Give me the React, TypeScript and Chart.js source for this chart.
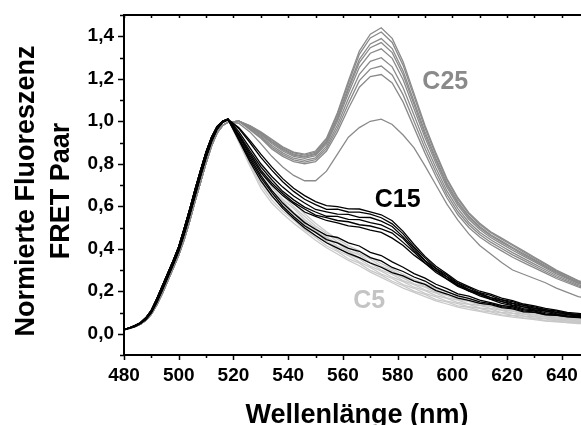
import { useEffect, useRef } from "react";
import { Chart, registerables } from "chart.js";

Chart.register(...registerables);

// Wavelength grid (nm)
const WAVELENGTH = [
  480, 482, 484, 486, 488, 490, 492, 494, 496, 498, 500, 502, 504, 506, 508, 510, 512, 514, 516, 518,
  522, 526, 530, 534, 538, 542, 546, 550, 554, 558, 562, 566, 570, 574, 578, 582, 586, 590, 594, 598,
  602, 606, 610, 614, 618, 622, 626, 630, 634, 638, 642, 646, 650,
];

// Donor rise (480–518 nm)
const RISE_A = [
  0.02, 0.028, 0.038, 0.052, 0.075, 0.11, 0.165, 0.225, 0.285, 0.345, 0.41, 0.495, 0.585, 0.68, 0.77,
  0.855, 0.925, 0.975, 1.0, 1.01,
];
const RISE_B = [
  0.019, 0.026, 0.035, 0.048, 0.068, 0.1, 0.15, 0.207, 0.267, 0.327, 0.39, 0.47, 0.558, 0.652, 0.744,
  0.832, 0.906, 0.962, 0.995, 1.008,
];
const RISE_C25 = [
  0.018, 0.025, 0.033, 0.045, 0.063, 0.092, 0.137, 0.19, 0.25, 0.31, 0.37, 0.445, 0.53, 0.625, 0.715,
  0.805, 0.885, 0.945, 0.98, 0.995,
];

// Tails 522–650 nm
const C25_SERIES = [
  [1.0, 0.98, 0.95, 0.915, 0.88, 0.855, 0.845, 0.86, 0.92, 1.04, 1.19, 1.33, 1.41, 1.44, 1.39, 1.28, 1.13, 0.98, 0.85, 0.73, 0.64, 0.57, 0.52, 0.48, 0.45, 0.42, 0.39, 0.36, 0.33, 0.3, 0.275, 0.25, 0.235],
  [1.0, 0.978, 0.947, 0.911, 0.876, 0.851, 0.841, 0.855, 0.915, 1.032, 1.178, 1.315, 1.392, 1.42, 1.371, 1.263, 1.116, 0.968, 0.84, 0.722, 0.633, 0.564, 0.514, 0.475, 0.445, 0.415, 0.385, 0.355, 0.326, 0.296, 0.272, 0.247, 0.232],
  [1.0, 0.975, 0.943, 0.905, 0.87, 0.845, 0.835, 0.849, 0.906, 1.019, 1.16, 1.291, 1.364, 1.389, 1.342, 1.236, 1.093, 0.95, 0.825, 0.709, 0.622, 0.554, 0.505, 0.466, 0.436, 0.406, 0.377, 0.349, 0.32, 0.291, 0.267, 0.243, 0.228],
  [1.0, 0.974, 0.94, 0.901, 0.866, 0.841, 0.831, 0.844, 0.901, 1.011, 1.148, 1.276, 1.346, 1.37, 1.323, 1.219, 1.079, 0.938, 0.815, 0.701, 0.614, 0.548, 0.499, 0.461, 0.431, 0.401, 0.372, 0.344, 0.316, 0.287, 0.264, 0.24, 0.225],
  [1.0, 0.971, 0.937, 0.895, 0.86, 0.835, 0.825, 0.838, 0.893, 1.0, 1.132, 1.254, 1.32, 1.341, 1.296, 1.195, 1.058, 0.922, 0.801, 0.69, 0.604, 0.539, 0.491, 0.453, 0.423, 0.393, 0.365, 0.338, 0.31, 0.282, 0.259, 0.237, 0.222],
  [1.0, 0.967, 0.931, 0.886, 0.851, 0.826, 0.816, 0.828, 0.882, 0.982, 1.107, 1.221, 1.282, 1.299, 1.256, 1.158, 1.028, 0.897, 0.78, 0.672, 0.589, 0.525, 0.478, 0.442, 0.412, 0.382, 0.355, 0.328, 0.301, 0.274, 0.253, 0.231, 0.216],
  [1.0, 0.964, 0.925, 0.878, 0.843, 0.818, 0.808, 0.819, 0.871, 0.966, 1.083, 1.191, 1.246, 1.26, 1.218, 1.124, 0.999, 0.873, 0.76, 0.656, 0.574, 0.513, 0.467, 0.431, 0.401, 0.371, 0.345, 0.319, 0.293, 0.267, 0.246, 0.225, 0.21],
  [1.0, 0.96, 0.92, 0.87, 0.835, 0.81, 0.8, 0.81, 0.86, 0.95, 1.06, 1.16, 1.21, 1.22, 1.18, 1.09, 0.97, 0.85, 0.74, 0.64, 0.56, 0.5, 0.455, 0.42, 0.39, 0.36, 0.335, 0.31, 0.285, 0.26, 0.24, 0.22, 0.205],
  [0.99, 0.95, 0.895, 0.835, 0.785, 0.745, 0.72, 0.72, 0.765, 0.845, 0.925, 0.97, 1.0, 1.01, 0.985, 0.935, 0.875, 0.79, 0.7, 0.61, 0.535, 0.47, 0.415, 0.375, 0.335, 0.3, 0.28, 0.26, 0.24, 0.215, 0.195, 0.175, 0.165],
];

const C15_SERIES = [
  [0.97, 0.91, 0.845, 0.785, 0.73, 0.685, 0.65, 0.622, 0.603, 0.598, 0.588, 0.587, 0.573, 0.56, 0.532, 0.482, 0.42, 0.364, 0.318, 0.282, 0.245, 0.222, 0.2, 0.186, 0.168, 0.156, 0.14, 0.131, 0.119, 0.111, 0.1, 0.096, 0.09],
  [0.965, 0.9, 0.83, 0.77, 0.715, 0.67, 0.633, 0.608, 0.585, 0.586, 0.573, 0.572, 0.563, 0.546, 0.517, 0.47, 0.408, 0.357, 0.308, 0.277, 0.238, 0.217, 0.193, 0.181, 0.16, 0.151, 0.135, 0.127, 0.113, 0.107, 0.096, 0.091, 0.085],
  [0.95, 0.875, 0.8, 0.74, 0.69, 0.648, 0.615, 0.585, 0.574, 0.563, 0.562, 0.548, 0.547, 0.53, 0.505, 0.456, 0.402, 0.345, 0.307, 0.268, 0.237, 0.208, 0.191, 0.17, 0.159, 0.144, 0.134, 0.121, 0.113, 0.101, 0.095, 0.087, 0.082],
  [0.94, 0.86, 0.785, 0.725, 0.67, 0.63, 0.596, 0.573, 0.553, 0.552, 0.538, 0.537, 0.523, 0.512, 0.487, 0.448, 0.392, 0.342, 0.298, 0.267, 0.228, 0.209, 0.185, 0.17, 0.151, 0.142, 0.126, 0.119, 0.106, 0.101, 0.09, 0.087, 0.079],
  [0.935, 0.85, 0.77, 0.71, 0.66, 0.618, 0.587, 0.558, 0.547, 0.533, 0.527, 0.513, 0.507, 0.493, 0.474, 0.43, 0.384, 0.333, 0.297, 0.258, 0.23, 0.201, 0.185, 0.163, 0.152, 0.135, 0.127, 0.113, 0.107, 0.095, 0.091, 0.082, 0.078],
  [0.93, 0.84, 0.76, 0.7, 0.65, 0.612, 0.573, 0.552, 0.533, 0.522, 0.508, 0.502, 0.488, 0.477, 0.45, 0.415, 0.37, 0.332, 0.288, 0.257, 0.223, 0.202, 0.178, 0.162, 0.143, 0.132, 0.118, 0.111, 0.099, 0.091, 0.084, 0.081, 0.075],
  [0.92, 0.83, 0.745, 0.675, 0.615, 0.567, 0.523, 0.492, 0.463, 0.453, 0.428, 0.413, 0.383, 0.368, 0.338, 0.313, 0.283, 0.262, 0.233, 0.212, 0.188, 0.177, 0.158, 0.147, 0.133, 0.127, 0.113, 0.107, 0.094, 0.091, 0.084, 0.081, 0.075],
  [0.915, 0.82, 0.735, 0.665, 0.6, 0.552, 0.508, 0.477, 0.443, 0.428, 0.402, 0.388, 0.358, 0.343, 0.312, 0.293, 0.267, 0.248, 0.218, 0.198, 0.178, 0.167, 0.15, 0.142, 0.128, 0.122, 0.108, 0.102, 0.091, 0.088, 0.081, 0.078, 0.072],
  [0.91, 0.81, 0.72, 0.65, 0.59, 0.542, 0.498, 0.462, 0.428, 0.403, 0.378, 0.358, 0.333, 0.313, 0.288, 0.272, 0.248, 0.232, 0.203, 0.187, 0.168, 0.157, 0.143, 0.137, 0.123, 0.117, 0.103, 0.101, 0.089, 0.086, 0.079, 0.076, 0.07],
];

const C5_SERIES = [
  [0.95, 0.87, 0.79, 0.72, 0.665, 0.615, 0.565, 0.52, 0.48, 0.445, 0.415, 0.39, 0.36, 0.33, 0.305, 0.28, 0.255, 0.235, 0.215, 0.195, 0.18, 0.165, 0.15, 0.14, 0.125, 0.115, 0.105, 0.095, 0.09, 0.08, 0.075, 0.07, 0.065],
  [0.94, 0.86, 0.775, 0.705, 0.652, 0.598, 0.552, 0.507, 0.472, 0.433, 0.406, 0.378, 0.352, 0.318, 0.297, 0.268, 0.247, 0.223, 0.207, 0.185, 0.173, 0.156, 0.144, 0.131, 0.12, 0.107, 0.101, 0.09, 0.087, 0.075, 0.073, 0.066, 0.062],
  [0.935, 0.846, 0.76, 0.69, 0.633, 0.589, 0.538, 0.498, 0.455, 0.426, 0.392, 0.371, 0.337, 0.312, 0.284, 0.262, 0.235, 0.219, 0.195, 0.181, 0.162, 0.152, 0.135, 0.129, 0.111, 0.106, 0.093, 0.088, 0.079, 0.075, 0.066, 0.064, 0.059],
  [0.928, 0.835, 0.745, 0.675, 0.624, 0.572, 0.53, 0.484, 0.45, 0.413, 0.387, 0.358, 0.332, 0.3, 0.279, 0.25, 0.231, 0.207, 0.191, 0.169, 0.158, 0.141, 0.133, 0.119, 0.11, 0.097, 0.093, 0.081, 0.079, 0.068, 0.067, 0.059, 0.056],
  [0.92, 0.824, 0.73, 0.66, 0.606, 0.563, 0.515, 0.476, 0.435, 0.407, 0.373, 0.352, 0.318, 0.295, 0.266, 0.245, 0.219, 0.203, 0.179, 0.166, 0.147, 0.138, 0.122, 0.116, 0.1, 0.096, 0.084, 0.08, 0.071, 0.068, 0.06, 0.058, 0.054],
  [0.914, 0.812, 0.714, 0.644, 0.595, 0.545, 0.506, 0.46, 0.428, 0.393, 0.367, 0.338, 0.312, 0.281, 0.26, 0.231, 0.214, 0.19, 0.174, 0.153, 0.142, 0.127, 0.12, 0.106, 0.098, 0.086, 0.083, 0.072, 0.07, 0.061, 0.06, 0.052, 0.051],
  [0.907, 0.801, 0.7, 0.63, 0.577, 0.535, 0.49, 0.453, 0.414, 0.387, 0.353, 0.332, 0.298, 0.276, 0.247, 0.226, 0.201, 0.185, 0.161, 0.15, 0.131, 0.124, 0.109, 0.103, 0.089, 0.085, 0.075, 0.072, 0.062, 0.06, 0.053, 0.052, 0.048],
  [0.9, 0.79, 0.685, 0.615, 0.565, 0.52, 0.48, 0.44, 0.405, 0.375, 0.345, 0.32, 0.29, 0.265, 0.24, 0.215, 0.195, 0.175, 0.155, 0.14, 0.125, 0.115, 0.105, 0.095, 0.085, 0.078, 0.072, 0.066, 0.06, 0.056, 0.052, 0.048, 0.045],
];

const X_TICKS = [480, 500, 520, 540, 560, 580, 600, 620, 640];
const Y_TICKS = [0, 0.2, 0.4, 0.6, 0.8, 1.0, 1.2, 1.4];

const GROUP_LABELS = [
  { text: "C25", x: 597.4, y: 1.154, color: "#8a8a8a" },
  { text: "C15", x: 580, y: 0.596, color: "#000000" },
  { text: "C5", x: 569.6, y: 0.122, color: "#c4c4c4" },
];

const FONT = "'Liberation Sans', Arial, Helvetica, sans-serif";
const C25_COLOR = "#8a8a8a";
const C15_COLOR = "#000000";
const C5_COLOR = "#c8c8c8";

function toPoints(rise: number[], tail: number[]) {
  const ys = rise.concat(tail);
  return WAVELENGTH.map((x, i) => ({ x, y: ys[i] }));
}

const framePlugin = {
  id: "frame",
  afterDatasetsDraw(chart: any) {
    const { ctx, chartArea } = chart;
    const xs = chart.scales.x;
    const ys = chart.scales.y;
    const { left, right, top, bottom } = chartArea;
    ctx.save();
    ctx.strokeStyle = "#000";
    ctx.lineWidth = 2;
    ctx.lineCap = "square";
    ctx.beginPath();
    ctx.moveTo(left, top);
    ctx.lineTo(right + 2, top);
    ctx.moveTo(left, top);
    ctx.lineTo(left, bottom);
    ctx.lineTo(right + 2, bottom);
    ctx.stroke();

    ctx.lineWidth = 1.5;
    ctx.lineCap = "butt";
    ctx.beginPath();
    for (let v = 480; v <= 647; v += 10) {
      const px = Math.round(xs.getPixelForValue(v)) + 0.5;
      const major = v % 20 === 0;
      ctx.moveTo(px, bottom);
      ctx.lineTo(px, bottom + (major ? 5 : 3));
      ctx.moveTo(px, top);
      ctx.lineTo(px, top + 3);
    }
    for (let k = -1; k <= 15; k++) {
      const v = k / 10;
      const py = Math.round(ys.getPixelForValue(v)) + 0.5;
      const major = k >= 0 && k % 2 === 0;
      ctx.moveTo(left, py);
      ctx.lineTo(left - (major ? 6 : 4), py);
    }
    ctx.stroke();

    ctx.textAlign = "center";
    ctx.textBaseline = "alphabetic";
    ctx.font = `bold 25px ${FONT}`;
    GROUP_LABELS.forEach((g) => {
      ctx.fillStyle = g.color;
      ctx.fillText(g.text, xs.getPixelForValue(g.x), ys.getPixelForValue(g.y));
    });

    ctx.fillStyle = "#000";
    ctx.font = `bold 27px ${FONT}`;
    ctx.fillText("Wellenlänge (nm)", (left + right) / 2 + 4.5, 423);

    const cy = (top + bottom) / 2 + 6;
    ctx.save();
    ctx.translate(33.5, cy);
    ctx.rotate(-Math.PI / 2);
    ctx.fillText("Normierte Fluoreszenz", 0, 0);
    ctx.restore();
    ctx.save();
    ctx.translate(68.5, cy);
    ctx.rotate(-Math.PI / 2);
    ctx.fillText("FRET Paar", 0, 0);
    ctx.restore();
    ctx.restore();
  },
};

export default function App() {
  const ref = useRef<HTMLCanvasElement | null>(null);

  useEffect(() => {
    if (!ref.current) return;
    const datasets: any[] = [];
    C15_SERIES.forEach((t, i) =>
      datasets.push({
        label: `C15-${i + 1}`,
        data: toPoints(i % 2 === 0 ? RISE_A : RISE_B, t),
        borderColor: C15_COLOR,
        borderWidth: 1.3,
      })
    );
    C25_SERIES.forEach((t, i) =>
      datasets.push({ label: `C25-${i + 1}`, data: toPoints(RISE_C25, t), borderColor: C25_COLOR, borderWidth: 1.3 })
    );
    C5_SERIES.forEach((t, i) =>
      datasets.push({ label: `C5-${i + 1}`, data: toPoints(RISE_A, t), borderColor: C5_COLOR, borderWidth: 1.3 })
    );
    datasets.forEach((d) => {
      d.pointRadius = 0;
      d.fill = false;
      d.tension = 0;
    });

    const chart = new Chart(ref.current, {
      type: "line",
      data: { datasets },
      plugins: [framePlugin],
      options: {
        responsive: false,
        devicePixelRatio: 1,
        animation: false,
        layout: { padding: { top: 15, right: 0, left: 0, bottom: 0 } },
        plugins: { legend: { display: false }, tooltip: { enabled: false } },
        scales: {
          x: {
            type: "linear",
            min: 480,
            max: 647,
            grid: { display: false, drawTicks: false },
            border: { display: false },
            afterFit: (s: any) => {
              s.height = 70;
              s.paddingLeft = 0;
              s.paddingRight = 0;
            },
            afterBuildTicks: (s: any) => {
              s.ticks = X_TICKS.map((v) => ({ value: v }));
            },
            ticks: {
              color: "#000",
              font: { family: FONT, size: 19, weight: "bold" },
              padding: 9,
              maxRotation: 0,
              autoSkip: false,
              callback: (v: any) => String(v),
            },
          },
          y: {
            type: "linear",
            min: -0.1,
            max: 1.5,
            grid: { display: false, drawTicks: false },
            border: { display: false },
            afterFit: (s: any) => {
              s.width = 124;
              s.paddingTop = 0;
              s.paddingBottom = 0;
            },
            afterBuildTicks: (s: any) => {
              s.ticks = Y_TICKS.map((v) => ({ value: v }));
            },
            ticks: {
              color: "#000",
              font: { family: FONT, size: 19, weight: "bold" },
              padding: 10,
              autoSkip: false,
              callback: (v: any) => Number(v).toFixed(1).replace(".", ","),
            },
          },
        },
      } as any,
    });
    return () => chart.destroy();
  }, []);

  return (
    <canvas
      ref={ref}
      width={581}
      height={425}
      style={{ position: "absolute", left: 0, top: 0, width: 581, height: 425, display: "block" }}
    />
  );
}
